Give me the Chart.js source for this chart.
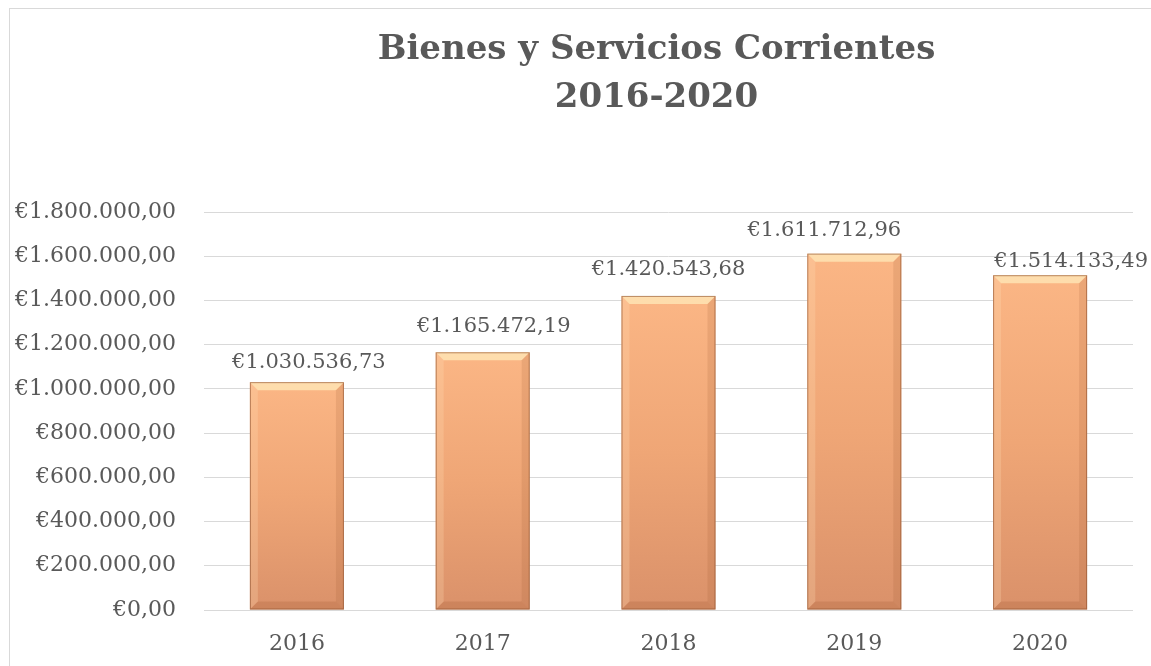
<!DOCTYPE html>
<html>
<head>
<meta charset="utf-8">
<script src="https://cdn.jsdelivr.net/npm/chart.js@4"></script>
<style>
  html, body { margin: 0; padding: 0; background: #fff; }
  #wrap { width: 1151px; height: 666px; position: relative; }
</style>
</head>
<body>
<div id="wrap"><canvas id="myChart" width="1151" height="666"></canvas></div>
<script>
const years = ['2016', '2017', '2018', '2019', '2020'];
const gasto = [1030536.73, 1165472.19, 1420543.68, 1611712.96, 1514133.49];
const titleLines = ['Bienes y Servicios Corrientes', '2016-2020'];
const yMax = 1800000;
const yStep = 200000;

const textColor = '#595959';
const gridColor = '#d9d9d9';
const fontFamily = '"DejaVu Serif", serif';

// labels were nudged by hand in the original: horizontal shift, gap above bar (px)
const labelDx = [12, 11, 0, -30, 35];
const labelGap = [20, 26, 26, 23, 14];

// 1800000 -> €1.800.000,00
function euro(v) {
  const parts = v.toFixed(2).split('.');
  const ent = parts[0].replace(/\B(?=(\d{3})+(?!\d))/g, '.');
  return '€' + ent + ',' + parts[1];
}

// light at the top of each bar, darker at the base
function barFill(context) {
  const chart = context.chart;
  const area = chart.chartArea;
  if (!area) return '#f4a877';
  const y = chart.scales.y;
  const top = y.getPixelForValue(context.raw);
  const bottom = y.getPixelForValue(0);
  const g = chart.ctx.createLinearGradient(0, top, 0, bottom);
  g.addColorStop(0, '#fbb685');
  g.addColorStop(0.5, '#efa676');
  g.addColorStop(1, '#da916a');
  return g;
}

const frame = {
  id: 'frame',
  beforeDraw(chart) {
    const c = chart.ctx;
    c.save();
    c.strokeStyle = gridColor;
    c.lineWidth = 1;
    c.strokeRect(9.5, 8.5, chart.width + 20, chart.height + 20);
    c.restore();
  }
};

// title centred over the plot area, as in the original
const bigTitle = {
  id: 'bigTitle',
  afterDraw(chart) {
    const c = chart.ctx;
    const a = chart.chartArea;
    c.save();
    c.font = 'bold 34px ' + fontFamily;
    c.fillStyle = textColor;
    c.textAlign = 'center';
    c.textBaseline = 'middle';
    const cx = (a.left + a.right) / 2 - 12;
    titleLines.forEach((t, i) => c.fillText(t, cx, 50 + i * 48));
    c.restore();
  }
};

// soft bevel on the bars
const bevel = {
  id: 'bevel',
  afterDatasetsDraw(chart) {
    const c = chart.ctx;
    chart.getDatasetMeta(0).data.forEach(bar => {
      const l = bar.x - bar.width / 2, r = bar.x + bar.width / 2;
      const t = bar.y, b = bar.base, e = 8;
      c.save();
      c.fillStyle = 'rgba(255,238,190,0.7)';
      c.beginPath();
      c.moveTo(l, t); c.lineTo(r, t); c.lineTo(r - e, t + e); c.lineTo(l + e, t + e); c.closePath();
      c.fill();
      c.fillStyle = 'rgba(255,225,185,0.25)';
      c.beginPath();
      c.moveTo(l, t); c.lineTo(l + e, t + e); c.lineTo(l + e, b - e); c.lineTo(l, b); c.closePath();
      c.fill();
      c.fillStyle = 'rgba(150,80,40,0.15)';
      c.beginPath();
      c.moveTo(r, t); c.lineTo(r - e, t + e); c.lineTo(r - e, b - e); c.lineTo(r, b); c.closePath();
      c.fill();
      c.fillStyle = 'rgba(150,80,40,0.2)';
      c.beginPath();
      c.moveTo(l, b); c.lineTo(l + e, b - e); c.lineTo(r - e, b - e); c.lineTo(r, b); c.closePath();
      c.fill();
      c.strokeStyle = 'rgba(140,80,45,0.6)';
      c.lineWidth = 1;
      c.strokeRect(l + 0.5, t + 0.5, bar.width - 1, b - t - 1);
      c.restore();
    });
  }
};

const valueLabels = {
  id: 'valueLabels',
  afterDatasetsDraw(chart) {
    const c = chart.ctx;
    c.save();
    c.font = '21px ' + fontFamily;
    c.fillStyle = textColor;
    c.textBaseline = 'middle';
    c.textAlign = 'center';
    chart.getDatasetMeta(0).data.forEach((bar, i) => {
      const txt = euro(gasto[i]);
      const w = c.measureText(txt).width;
      let x = bar.x + labelDx[i];
      if (x + w / 2 > chart.width - 3) x = chart.width - 3 - w / 2;
      c.fillText(txt, x, bar.y - labelGap[i]);
    });
    c.restore();
  }
};

const ctx = document.getElementById('myChart').getContext('2d');
new Chart(ctx, {
  type: 'bar',
  data: {
    labels: years,
    datasets: [{
      label: 'Bienes y Servicios Corrientes',
      data: gasto,
      backgroundColor: barFill,
      borderWidth: 0,
      barPercentage: 0.506,
      categoryPercentage: 1
    }]
  },
  options: {
    responsive: false,
    animation: false,
    layout: { padding: { left: 0, right: 18, top: 212, bottom: 0 } },
    plugins: {
      legend: { display: false },
      tooltip: { enabled: false },
      title: { display: false }
    },
    scales: {
      x: {
        grid: { display: false },
        border: { display: false },
        ticks: { color: textColor, font: { family: fontFamily, size: 22 }, padding: 13 },
        afterFit(s) { s.height = 56; }
      },
      y: {
        min: 0,
        max: yMax,
        grid: { color: gridColor, drawTicks: false },
        border: { display: false },
        ticks: {
          stepSize: yStep,
          color: textColor,
          padding: 28,
          font: { family: fontFamily, size: 22 },
          callback: v => euro(v)
        },
        afterFit(s) { s.width = 204; }
      }
    }
  },
  plugins: [frame, bevel, valueLabels, bigTitle]
});
</script>
</body>
</html>
